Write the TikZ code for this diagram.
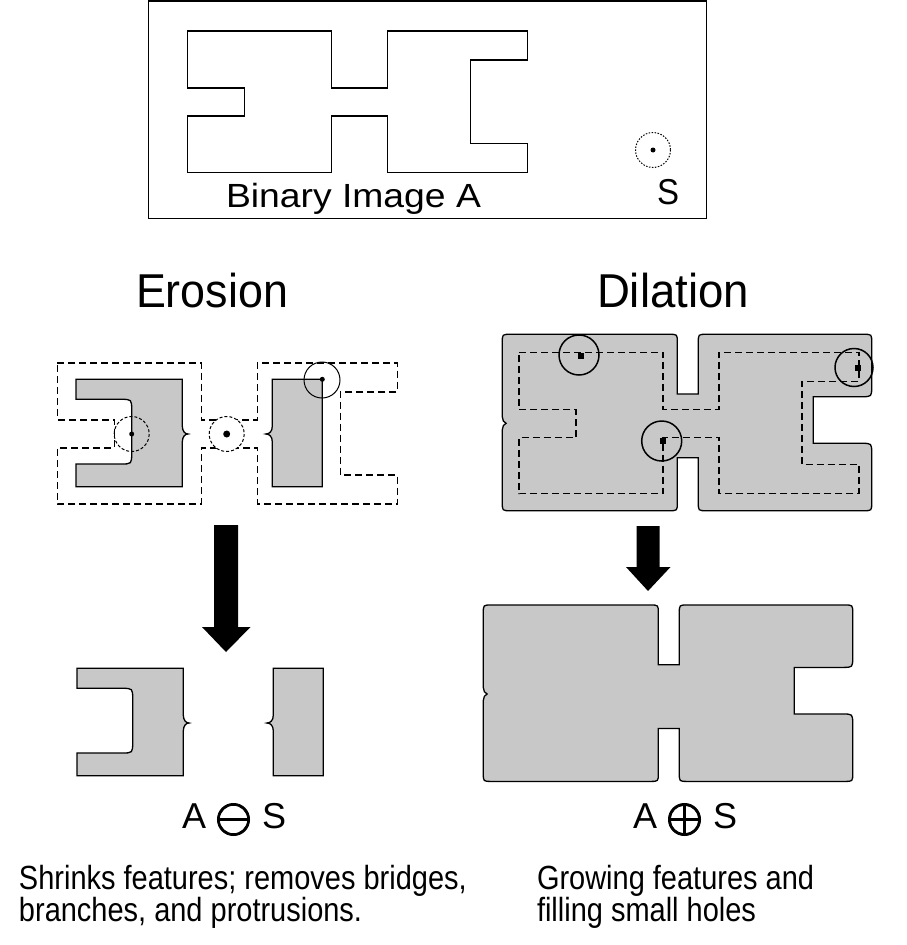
\documentclass[tikz,border=0pt]{standalone}
\usepackage{fontspec}
\setmainfont{Liberation Sans}
\newfontfamily\symfont[FakeBold=1.8]{latinmodern-math.otf}
\usepackage{graphicx}
\definecolor{shapegray}{RGB}{200,200,200}
\newcommand\fitw[2]{\resizebox{#1}{\height}{#2}}
\newcommand\fs[1]{\fontsize{#1}{#1}\selectfont}
\newcommand\captext[1]{\fs{33.5}\scalebox{0.865}[1]{#1}}
\tikzset{
  shapeA/.pic={\path[pic actions] (0,0) -- (144,0) -- (144,57) -- (200,57) -- (200,0) -- (340,0) -- (340,29) -- (283,29) -- (283,112.3) -- (340,112.3) -- (340,141.3) -- (200,141.3) -- (200,85) -- (144,85) -- (144,141.3) -- (0,141.3) -- (0,85) -- (57,85) -- (57,57) -- (0,57) -- cycle;},
  eroded/.pic={
    \path[pic actions] (0,0) -- (106.3,0) -- (106.3,46.7) .. controls (106.3,52) and (109,54.7) .. (112,54.7) .. controls (109,54.7) and (106.3,57.4) .. (106.3,62.7) -- (106.3,107.4) -- (0,107.4) -- (0,84.7) -- (44.7,84.7) .. controls (55.7,84.7) .. (55.7,73.7) -- (55.7,31) .. controls (55.7,20) .. (44.7,20) -- (0,20) -- cycle;
    \path[pic actions] (196.3,0) -- (246.3,0) -- (246.3,107.4) -- (196.3,107.4) -- (196.3,62.7) .. controls (196.3,57.4) and (193.5,54.7) .. (190,54.7) .. controls (193.5,54.7) and (196.3,52) .. (196.3,46.7) -- cycle;},
  dilated/.pic={\path[pic actions] (0,8) .. controls (0,0) .. (8,0) -- (167,0) .. controls (175,0) .. (175,8) -- (175,59.7) -- (196,59.7) -- (196,8) .. controls (196,0) .. (204,0) -- (361.4,0) .. controls (369.4,0) .. (369.4,8) -- (369.4,52.4) .. controls (369.4,62.4) .. (359.4,62.4) -- (311,62.4) -- (311,109) -- (359.4,109) .. controls (369.4,109) .. (369.4,119) -- (369.4,168.4) .. controls (369.4,176.4) .. (361.4,176.4) -- (204,176.4) .. controls (196,176.4) .. (196,168.4) -- (196,123.4) -- (175,123.4) -- (175,168.4) .. controls (175,176.4) .. (167,176.4) -- (8,176.4) .. controls (0,176.4) .. (0,168.4) -- (0,95.5) .. controls (0,92.5) and (1.5,89.5) .. (3.8,89) .. controls (1.5,88.5) and (0,85.5) .. (0,82.5) -- cycle;},
  framebox/.style={draw, line width=1.5},
  outline/.style={draw, dash pattern=on 7pt off 4pt, line width=1.6},
  grayshape/.style={fill=shapegray, draw=black, line width=1.3},
  probe/.style={draw, dash pattern=on 3pt off 2pt, line width=1},
  dprobe/.style={draw, line width=1.5},
  txt/.style={anchor=base west, inner sep=0pt, outer sep=0pt},
  bigarrow/.style={fill=black}
}
\begin{document}
\begin{tikzpicture}[x=1pt,y=-1pt]
\useasboundingbox (0,0) rectangle (906,945);
% top box
\draw[framebox] (148.5,1.2) rectangle (706.5,218.5);
\pic[draw, line width=1.4] at (187.5,31) {shapeA};
\draw[draw, dash pattern=on 1.5pt off 1.5pt, line width=1] (653,150) circle[radius=17.5];
\fill (653,150) circle[radius=2.5];
\node[txt] (binA) at (226,207) {\fs{33.5}\fitw{255pt}{Binary Image A}};
\node[txt] (sLbl) at (657,204) {\fs{36}\fitw{22pt}{S}};
% titles
\node[txt] (eroT) at (136,307) {\fs{47.5}\fitw{152pt}{Erosion}};
\node[txt] (dilT) at (597,307) {\fs{47.5}\fitw{152pt}{Dilation}};
% erosion
\pic[outline] at (57.3,362.7) {shapeA};
\pic[grayshape] at (76,379.3) {eroded};
\draw[probe] (131.7,434) circle[radius=17.5];
\fill (131.7,434) circle[radius=2.5];
\draw[probe, fill=white] (226.7,434) circle[radius=17.5];
\fill (226.7,434) circle[radius=3.5];
\draw[draw, line width=1] (322,380) circle[radius=18];
\fill (322.3,379.3) circle[radius=2.5];
\fill[bigarrow] (214,525) -- (238,525) -- (238,627) -- (250.5,627) -- (226,652) -- (202,627) -- (214,627) -- cycle;
\pic[grayshape] at (77,668.3) {eroded};
\node[txt] (eA) at (182,828) {\fs{36}A};
\node[anchor=center, inner sep=0pt] (eOp) at (233.5,819.5) {\symfont\fs{47}⊖};
\node[txt] (eS) at (262,828) {\fs{36}S};
% dilation
\pic[grayshape] at (502.3,334.3) {dilated};
\pic[outline] at (519,352.3) {shapeA};
\draw[dprobe] (579,355) circle[radius=20];
\fill (577.7,352.7) rectangle ++(6,6);
\draw[dprobe] (661.7,441) circle[radius=20];
\fill (660.3,437.7) rectangle ++(6,6);
\draw[dprobe] (854,367.5) circle[radius=19];
\fill (854.7,365.3) rectangle ++(6,6);
\fill[bigarrow] (636.5,526) -- (659.5,526) -- (659.5,567) -- (670.5,567) -- (648,591) -- (626,567) -- (636.5,567) -- cycle;
\pic[grayshape] at (483.3,605) {dilated};
\node[txt] (dA) at (633,828) {\fs{36}A};
\node[anchor=center, inner sep=0pt] (dOp) at (684.5,819.5) {\symfont\fs{47}⊕};
\node[txt] (dS) at (713,828) {\fs{36}S};
% captions
\node[txt] (eTxt1) at (19,889) {\captext{Shrinks features; removes bridges,}};
\node[txt] (eTxt2) at (19,921) {\captext{branches, and protrusions.}};
\node[txt] (dTxt1) at (537,889) {\captext{Growing features and}};
\node[txt] (dTxt2) at (537,921) {\captext{filling small holes}};
\end{tikzpicture}
\end{document}
